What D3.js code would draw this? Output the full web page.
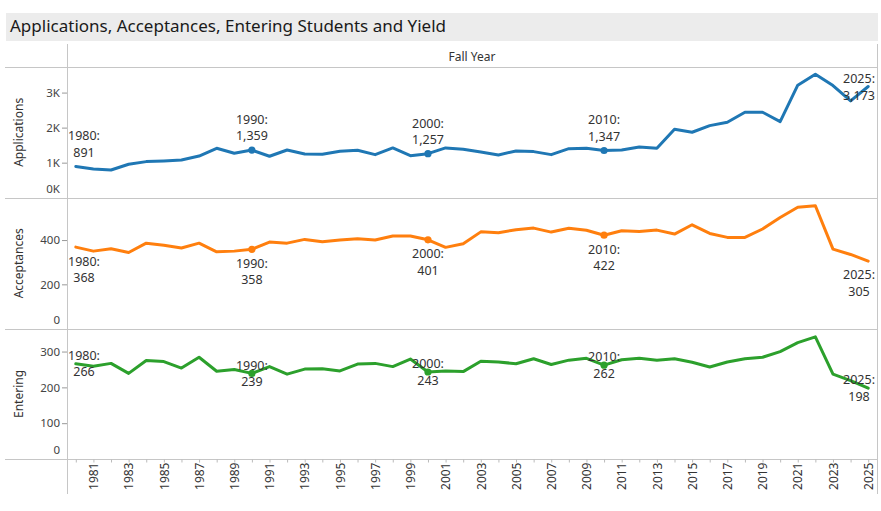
<!DOCTYPE html>
<html>
<head>
<meta charset="utf-8">
<script src="https://cdn.jsdelivr.net/npm/d3@7"></script>
<style>
  html, body { margin: 0; padding: 0; background: #fff; }
  svg { display: block; font-family: "Noto Sans", sans-serif; }
</style>
</head>
<body>
<svg id="chart" width="881" height="511"></svg>
<script>
// ---------- DATA ----------
const years = d3.range(1980, 2026);
const applications = [891, 820, 790, 954, 1030, 1050, 1077, 1190, 1410, 1268,
  1359, 1182, 1362, 1248, 1240, 1325, 1354, 1229, 1420, 1200,
  1257, 1420, 1382, 1306, 1220, 1334, 1315, 1229, 1400, 1410,
  1347, 1362, 1448, 1410, 1954, 1868, 2057, 2154, 2440, 2440,
  2171, 3211, 3526, 3200, 2763, 3173];
const acceptances = [368, 350, 361, 344, 386, 377, 364, 386, 347, 350,
  358, 391, 386, 403, 392, 400, 406, 400, 418, 418,
  401, 367, 383, 437, 433, 447, 454, 436, 453, 444,
  422, 442, 439, 445, 427, 469, 430, 412, 412, 450,
  502, 548, 555, 359, 335, 305];
const entering = [266, 259, 267, 239, 275, 272, 254, 284, 245, 250,
  239, 258, 237, 251, 252, 246, 265, 267, 258, 279,
  243, 246, 244, 273, 271, 266, 280, 264, 276, 281,
  262, 277, 281, 276, 280, 270, 257, 271, 280, 284,
  300, 325, 341, 237, 219, 198];
const appTicks = [0, 1000, 2000, 3000];
const accTicks = [0, 200, 400];
const entTicks = [0, 100, 200, 300];
const labelYears = [1980, 1990, 2000, 2010, 2025];
const dotYears = [1990, 2000, 2010];
const titleText = "Applications, Acceptances, Entering Students and Yield";
const headerText = "Fall Year";

// ---------- LAYOUT ----------
const svg = d3.select("#chart");
const L = 67, R = 877;
const panels = [
  { name: "Applications", values: applications, ticks: appTicks, max: 3730, top: 67, bottom: 197.7,
    color: "#1f77b4", fmt: d => (d / 1000) + "K", labelPos: "above" },
  { name: "Acceptances", values: acceptances, ticks: accTicks, max: 590, top: 198, bottom: 328.6,
    color: "#ff7f0e", fmt: d3.format(",d"), labelPos: "below" },
  { name: "Entering", values: entering, ticks: entTicks, max: 363, top: 329, bottom: 459,
    color: "#2ca02c", fmt: d3.format(",d"), labelPos: "middle" }
];

const x = d3.scalePoint().domain(years).range([L, R]).padding(0.5);

// title bar
svg.append("rect").attr("x", 6).attr("y", 13).attr("width", 872).attr("height", 28).attr("fill", "#ececec");
svg.append("text").attr("x", 10).attr("y", 32).attr("font-size", 17).attr("fill", "#1a1a1a").text(titleText);

// header
svg.append("text").attr("x", (L + R) / 2).attr("y", 56).attr("text-anchor", "middle")
  .attr("dominant-baseline", "central").attr("font-size", 12).attr("fill", "#333").text(headerText);

// frame lines
const lineColor = "#c6c6c6";
svg.append("line").attr("x1", L + 0.5).attr("x2", L + 0.5).attr("y1", 44).attr("y2", 494).attr("stroke", lineColor);
svg.append("line").attr("x1", R + 0.5).attr("x2", R + 0.5).attr("y1", 44).attr("y2", 494).attr("stroke", lineColor);
[67, 198, 329, 459].forEach(yy => {
  svg.append("line").attr("x1", 5).attr("x2", R + 1).attr("y1", yy + 0.5).attr("y2", yy + 0.5).attr("stroke", lineColor);
});

const fmtNum = d3.format(",d");

panels.forEach(p => {
  const y = d3.scaleLinear().domain([0, p.max]).range([p.bottom, p.top]);
  const g = svg.append("g");

  // y axis
  const ax = g.append("g").attr("transform", `translate(${L},0)`)
    .call(d3.axisLeft(y).tickValues(p.ticks).tickFormat(p.fmt).tickSize(5).tickPadding(2));
  ax.select(".domain").remove();
  ax.selectAll(".tick line").attr("stroke", "#999");
  ax.selectAll(".tick text").attr("font-size", 11.5).attr("fill", "#444")
    .attr("font-family", "'Noto Sans', sans-serif")
    .attr("dy", function (d) {
      // keep the bottom label inside the panel
      return (y(d) + 6 > p.bottom) ? "-0.45em" : "0.32em";
    });
  ax.selectAll(".tick").filter(d => y(d) + 6 > p.bottom).select("line").remove();

  // axis title
  g.append("text")
    .attr("transform", `translate(18,${(p.top + p.bottom) / 2}) rotate(-90)`)
    .attr("text-anchor", "middle").attr("dominant-baseline", "central")
    .attr("font-size", 12).attr("fill", "#333").text(p.name);

  // line
  const line = d3.line().x((d, i) => x(years[i])).y(d => y(d));
  g.append("path").datum(p.values).attr("d", line)
    .attr("fill", "none").attr("stroke", p.color).attr("stroke-width", 3)
    .attr("stroke-linejoin", "round").attr("stroke-linecap", "round");

  // dots
  g.selectAll("circle").data(dotYears).join("circle")
    .attr("cx", d => x(d)).attr("cy", d => y(p.values[years.indexOf(d)]))
    .attr("r", 3.6).attr("fill", p.color);

  // labels
  const lh = 16.5;
  labelYears.forEach(yr => {
    const v = p.values[years.indexOf(yr)];
    const px = x(yr), py = y(v);
    const t = g.append("text").attr("font-size", 12.5).attr("fill", "#333").attr("text-anchor", "middle");
    const l1 = t.append("tspan").text(yr + ":");
    const l2 = t.append("tspan").text(fmtNum(v));
    const w = Math.max(l1.node().getComputedTextLength(), l2.node().getComputedTextLength());
    let cx = Math.max(L + 1 + w / 2, Math.min(R - 2 - w / 2, px));
    let c1;
    if (p.labelPos === "above") c1 = py - 14 - lh;
    else if (p.labelPos === "below") c1 = py + 14;
    else c1 = py - lh / 2;
    c1 = Math.max(p.top + 12, c1);
    l1.attr("x", cx).attr("y", c1).attr("dy", "0.35em");
    l2.attr("x", cx).attr("y", c1 + lh).attr("dy", "0.35em");
  });
});

// x axis
const xa = svg.append("g").attr("transform", `translate(0,459.5)`)
  .call(d3.axisBottom(x).tickSize(3).tickFormat(d => (d % 2 ? d : "")));
xa.select(".domain").remove();
xa.selectAll(".tick line").attr("stroke", "#bbb");
xa.selectAll(".tick text")
  .attr("transform", "rotate(-90)")
  .attr("x", -3).attr("y", 0).attr("dy", "0.35em")
  .attr("text-anchor", "end")
  .attr("font-size", 12).attr("fill", "#333")
  .attr("font-family", "'Noto Sans', sans-serif");
</script>
</body>
</html>
